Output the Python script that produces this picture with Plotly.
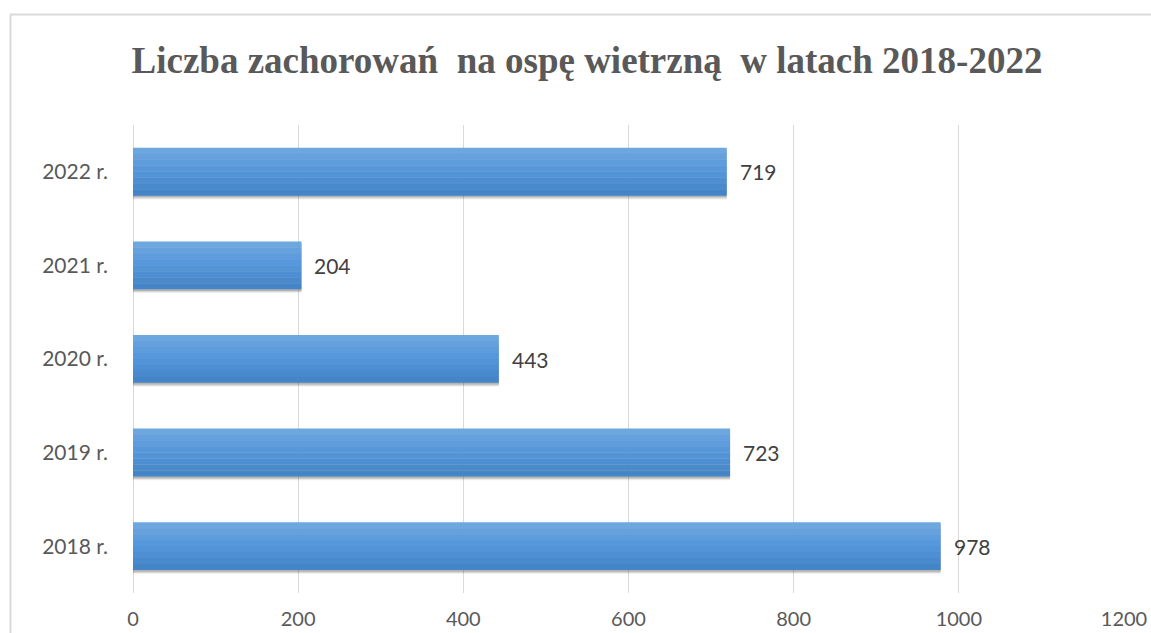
import plotly.graph_objects as go

categories = ["2018 r.", "2019 r.", "2020 r.", "2021 r.", "2022 r."]
values = [978, 723, 443, 204, 719]
x_ticks = [0, 200, 400, 600, 800, 1000, 1200]
title_text = "Liczba zachorowań  na ospę wietrzną  w latach 2018-2022"

BAR_W = 0.51
# gradient bands (top -> bottom)
band_colors = ["#6da7e0", "#65a1df", "#5d9cdd", "#5798dc", "#5294d8", "#4d8fd2", "#488acc", "#4385c7"]

fig = go.Figure()

# soft shadow below bars
for i, (dy, alpha) in enumerate([(0.04, 0.08), (0.03, 0.14), (0.018, 0.22)]):
    fig.add_trace(go.Bar(
        x=values, y=categories, orientation="h",
        width=BAR_W, offset=-BAR_W / 2 - dy,
        marker=dict(color=f"rgba(60,60,60,{alpha})", line=dict(width=0)),
        hoverinfo="skip", showlegend=False,
    ))

n = len(band_colors)
band_h = BAR_W / n
for k, col in enumerate(band_colors):
    off = BAR_W / 2 - (k + 1) * band_h
    fig.add_trace(go.Bar(
        x=values, y=categories, orientation="h",
        width=band_h * 1.02, offset=off,
        marker=dict(color=col, line=dict(width=0)),
        hoverinfo="skip", showlegend=False,
    ))

for c, v in zip(categories, values):
    fig.add_annotation(
        x=v, y=c, text=str(v), showarrow=False, xanchor="left", yanchor="middle",
        xshift=11, font=dict(family="Lato", size=21, color="#404040"),
    )

L, R, T, B = 133, 27, 125, 40
W, H = 1151, 633
pw, ph = W - L - R, H - T - B

def px_x(p):
    return (p - L) / pw

def px_y(p):
    return (H - B - p) / ph

border = dict(color="#d9d9d9", width=2)
fig.add_shape(type="line", xref="paper", yref="paper",
              x0=px_x(10), x1=px_x(1160), y0=px_y(14.5), y1=px_y(14.5), line=border)
fig.add_shape(type="line", xref="paper", yref="paper",
              x0=px_x(10.5), x1=px_x(10.5), y0=px_y(14.5), y1=px_y(640), line=border)

fig.update_layout(
    width=W, height=H, autosize=False,
    margin=dict(l=L, r=R, t=T, b=B),
    paper_bgcolor="white", plot_bgcolor="white",
    barmode="overlay",
    showlegend=False,
    title=dict(
        text=f"<b>{title_text}</b>",
        font=dict(family="Liberation Serif", size=37, color="#595959"),
        x=587 / W, xanchor="center", xref="container", y=1 - 60 / H, yanchor="middle",
    ),
    xaxis=dict(
        range=[0, 1200], tickvals=x_ticks, showgrid=True, gridcolor="#d9d9d9", gridwidth=1,
        zeroline=True, zerolinecolor="#d9d9d9", zerolinewidth=1, showline=False,
        tickfont=dict(family="Lato", size=20, color="#595959"), ticks="",
        ticklabelstandoff=12, fixedrange=True, automargin=False,
    ),
    yaxis=dict(
        categoryorder="array", categoryarray=categories, showgrid=False,
        showline=False, zeroline=False, ticks="",
        tickfont=dict(family="Lato", size=21, color="#595959"),
        ticklabelstandoff=24, fixedrange=True, automargin=False,
    ),
)

fig.write_html(
    "out.html",
    config={"responsive": False, "displayModeBar": False, "staticPlot": True},
    post_script="document.body.style.margin='0';document.body.style.overflow='hidden';",
)
